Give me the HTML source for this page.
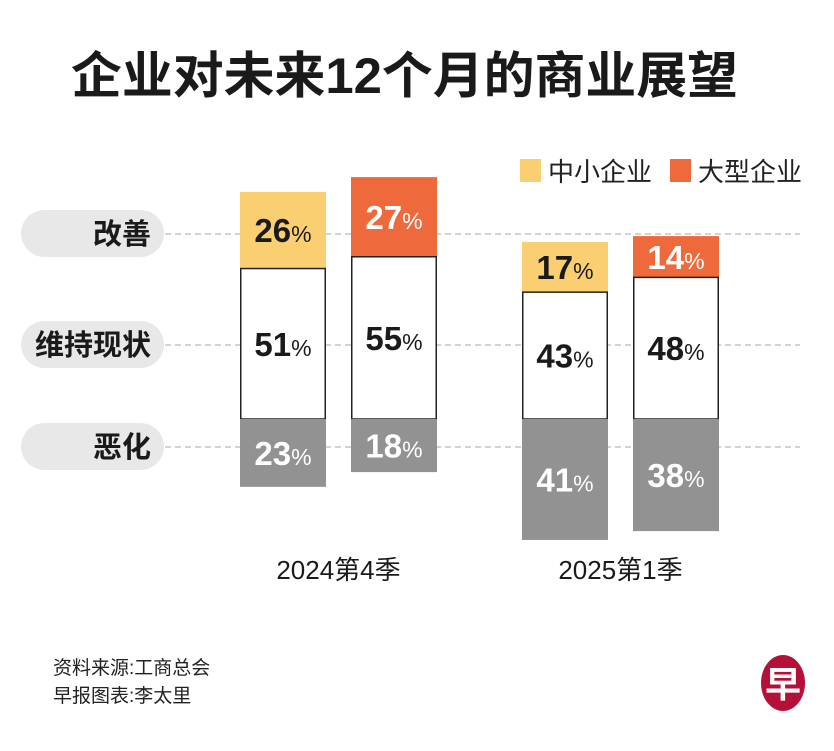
<!DOCTYPE html>
<html><head><meta charset="utf-8">
<style>
body{margin:0;background:#fff;}
svg{display:block;}
text{font-family:"Liberation Sans","Noto Sans CJK SC",sans-serif;}
</style></head>
<body>
<svg id="chart" width="834" height="751" viewBox="0 0 834 751">
  <text x="71" y="93" font-size="50" font-weight="bold" fill="#1a1a1a" textLength="667" lengthAdjust="spacingAndGlyphs">企业对未来12个月的商业展望</text>
  <g>
    <rect x="520" y="159" width="21" height="23" fill="#f9cf72"/>
    <text x="548" y="181" font-size="26" fill="#222">中小企业</text>
    <rect x="670" y="159" width="21" height="23" fill="#ee6a3c"/>
    <text x="698" y="181" font-size="26" fill="#222">大型企业</text>
  </g>
  <g id="rows"></g>
  <g id="bars"></g>
  <g id="cats"></g>
  <text x="53" y="674" font-size="19" fill="#222">资料来源:工商总会</text>
  <text x="53" y="702" font-size="19" fill="#222">早报图表:李太里</text>
  <g>
    <ellipse cx="783" cy="683" rx="22" ry="28" fill="#b5103a"/>
    <text x="783" y="697" text-anchor="middle" font-size="36" font-weight="bold" fill="#fff" font-family="Noto Serif CJK SC, serif">早</text>
  </g>
</svg>
<script>
const rowLabels = ["改善","维持现状","恶化"];
const categories = ["2024第4季","2025第1季"];
const smeImprove = [26,17];
const smeMaintain = [51,43];
const smeWorsen = [23,41];
const largeImprove = [27,14];
const largeMaintain = [55,48];
const largeWorsen = [18,38];

const NS="http://www.w3.org/2000/svg";
const svg=document.getElementById('chart');
const baseY=419, pxPer=2.95;
const yScale=v=>v*pxPer;
const groupX=[240,522], barW=86, gap=111;
function mk(tag,attrs,parent){const e=document.createElementNS(NS,tag);for(const k in attrs)e.setAttribute(k,attrs[k]);parent.appendChild(e);return e;}

const rows=document.getElementById('rows');
const rowY=[234,345,447];
rowLabels.forEach((l,i)=>{
  const line=mk('line',{x1:165,x2:800,y1:rowY[i],y2:rowY[i],stroke:'#aaa','stroke-width':1,'stroke-dasharray':'6,4'},rows);
  
  
  const pill=mk('rect',{x:21,y:rowY[i]-24,width:143,height:47,rx:23.5,fill:'#e8e8e8'},rows);
  
  
  const t=mk('text',{x:151,y:rowY[i]+10,'text-anchor':'end','font-size':29,'font-weight':'bold',fill:'#1a1a1a'},rows);
  t.textContent=l;
  
  
});

const bars=document.getElementById('bars');
function label(x,cy,v,color){
  const t=mk('text',{x:x+barW/2,y:cy+12,'text-anchor':'middle',fill:color},bars);
  const a=document.createElementNS(NS,'tspan');a.setAttribute('font-size','33');a.setAttribute('font-weight','bold');a.textContent=v;t.appendChild(a);
  const b=document.createElementNS(NS,'tspan');b.setAttribute('font-size','23');b.textContent='%';t.appendChild(b);
  
  
}
function stack(x,imp,mai,wor,topColor,topText,name){
  const hm=yScale(mai),hi=yScale(imp),hw=yScale(wor);
  const r1=mk('rect',{x:x,y:baseY-hm-hi,width:barW,height:hi,fill:topColor},bars);
  
  
  const r2=mk('rect',{x:x+0.75,y:baseY-hm,width:barW-1.5,height:hm,fill:'#fff',stroke:'#222','stroke-width':1.5},bars);
  
  
  const r3=mk('rect',{x:x,y:baseY,width:barW,height:hw,fill:'#929292'},bars);
  
  
  label(x,baseY-hm-hi/2,imp,topText);
  label(x,baseY-hm/2,mai,'#1a1a1a');
  label(x,baseY+hw/2,wor,'#fff');
}
const cats=document.getElementById('cats');
categories.forEach((c,i)=>{
  stack(groupX[i],smeImprove[i],smeMaintain[i],smeWorsen[i],'#f9cf72','#1a1a1a','bar-sme-'+i);
  stack(groupX[i]+gap,largeImprove[i],largeMaintain[i],largeWorsen[i],'#ee6a3c','#fff','bar-large-'+i);
  const t=mk('text',{x:groupX[i]+(gap+barW)/2,y:579,'text-anchor':'middle','font-size':26,fill:'#1a1a1a'},cats);
  t.textContent=c;
  
  
});
</script>
</body></html>
